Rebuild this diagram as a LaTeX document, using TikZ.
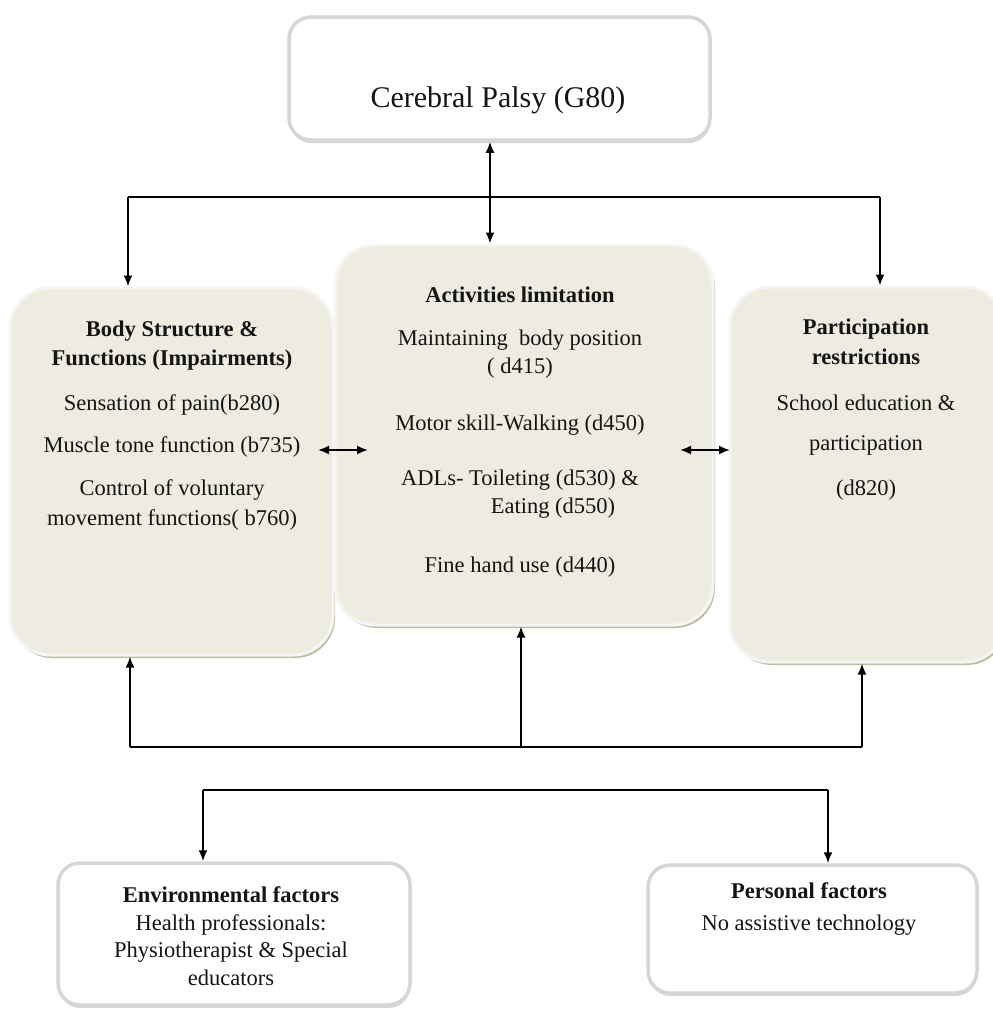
\documentclass[tikz,border=0pt]{standalone}
\usepackage{fontspec}
\setmainfont{Liberation Serif}
\usetikzlibrary{arrows.meta,shadows}
\definecolor{panelfill}{HTML}{EEECE1}
\definecolor{panelrim}{HTML}{F5F5F3}
\definecolor{sage}{HTML}{A3AB86}
\definecolor{cardrim}{HTML}{D6D6D6}
\begin{document}
\begin{tikzpicture}[x=1pt,y=-1pt,
  panel/.style={draw=panelrim, line width=3pt, fill=panelfill, rounded corners=40pt,
    drop shadow={shadow xshift=2pt, shadow yshift=-3pt, fill=sage, opacity=0.75}},
  card/.style={draw=cardrim, line width=3.5pt, fill=white, rounded corners=22pt,
    drop shadow={shadow xshift=0.5pt, shadow yshift=-3pt, fill=gray!45, opacity=0.7}},
  txt/.style={font=\fontsize{22.5}{29}\selectfont, align=center, inner sep=0pt, text=black!92},
  head/.style={txt, font=\fontsize{22.5}{29}\selectfont\bfseries},
  link/.style={line width=1.8pt, black},
  tip/.style={-{Latex[length=11pt,width=9pt]}},
  tips/.style={{Latex[length=11pt,width=9pt]}-{Latex[length=11pt,width=9pt]}}
]
\clip (0,0) rectangle (993,1010);
\fill[white] (0,0) rectangle (993,1010);

% boxes
\node[card, minimum width=421pt, minimum height=123pt] (cp) at (499.5,78.5) {};
\node[panel, minimum width=323pt, minimum height=367pt] (body) at (171.5,471.5) {};
\node[panel, minimum width=275pt, minimum height=375pt] (part) at (867.5,474.5) {};
\node[panel, minimum width=378pt, minimum height=380pt] (act) at (524,435) {};
\node[card, minimum width=352pt, minimum height=142pt] (env) at (234,934) {};
\node[card, minimum width=329pt, minimum height=128pt] (pers) at (812.5,929) {};

% texts
\node[txt, font=\fontsize{30}{34}\selectfont] (cpt) at (498,100) {Cerebral Palsy (G80)};

\node[head] (bodyh) at (172,346) {Body Structure \&\\Functions (Impairments)};
\node[txt] (b1) at (172,405) {Sensation of pain(b280)};
\node[txt] (b2) at (172,447) {Muscle tone function (b735)};
\node[txt, font=\fontsize{22.5}{30}\selectfont] (b3) at (172,505) {Control of voluntary\\movement functions( b760)};

\node[head] (acth) at (520,295) {Activities limitation};
\node[txt, font=\fontsize{22.5}{28}\selectfont] (a1) at (520,354) {Maintaining\ \ body position\\( d415)};
\node[txt] (a2) at (520,425) {Motor skill-Walking (d450)};
\node[txt] (a3) at (520,480) {ADLs- Toileting (d530) \&};
\node[txt] (a4) at (553,508) {Eating (d550)};
\node[txt] (a5) at (520,567) {Fine hand use (d440)};

\node[head, font=\fontsize{22.5}{30}\selectfont\bfseries] (parth) at (866,342) {Participation\\restrictions};
\node[txt] (p1) at (866,403) {School education \&};
\node[txt] (p2) at (866,445) {participation};
\node[txt] (p3) at (866,490) {(d820)};

\node[txt, font=\fontsize{22.5}{27.5}\selectfont] (envt) at (231,936)
  {\textbf{Environmental factors}\\Health professionals:\\Physiotherapist \& Special\\educators};
\node[txt, font=\fontsize{22.5}{32}\selectfont] (perst) at (809,909)
  {\textbf{Personal factors}\\No assistive technology};

% junction points of the connectors
\coordinate (hubT) at (490,197);
\coordinate (tl) at (128,197);
\coordinate (tr) at (880,197);
\coordinate (lm1) at (318,450);
\coordinate (lm2) at (368,450);
\coordinate (mr1) at (680,450);
\coordinate (mr2) at (730,450);
\coordinate (hubB) at (521,747);
\coordinate (bl) at (130,747);
\coordinate (br) at (862,747);
\coordinate (fl) at (203,790);
\coordinate (fr) at (828,790);

% connectors
\draw[link, tips] (cp.south -| hubT) -- (act.north -| hubT);
\draw[link] (tl) -- (tr);
\draw[link, tip] (tl) -- (body.north -| tl);
\draw[link, tip] (tr) -- (part.north -| tr);
\draw[link, tips] (lm1) -- (lm2);
\draw[link, tips] (mr1) -- (mr2);
\draw[link] (bl) -- (br);
\draw[link, tip] (hubB) -- (act.south -| hubB);
\draw[link, tip] (bl) -- (body.south -| bl);
\draw[link, tip] (br) -- (part.south -| br);
\draw[link] (fl) -- (fr);
\draw[link, tip] (fl) -- (env.north -| fl);
\draw[link, tip] (fr) -- (pers.north -| fr);
\end{tikzpicture}
\end{document}
